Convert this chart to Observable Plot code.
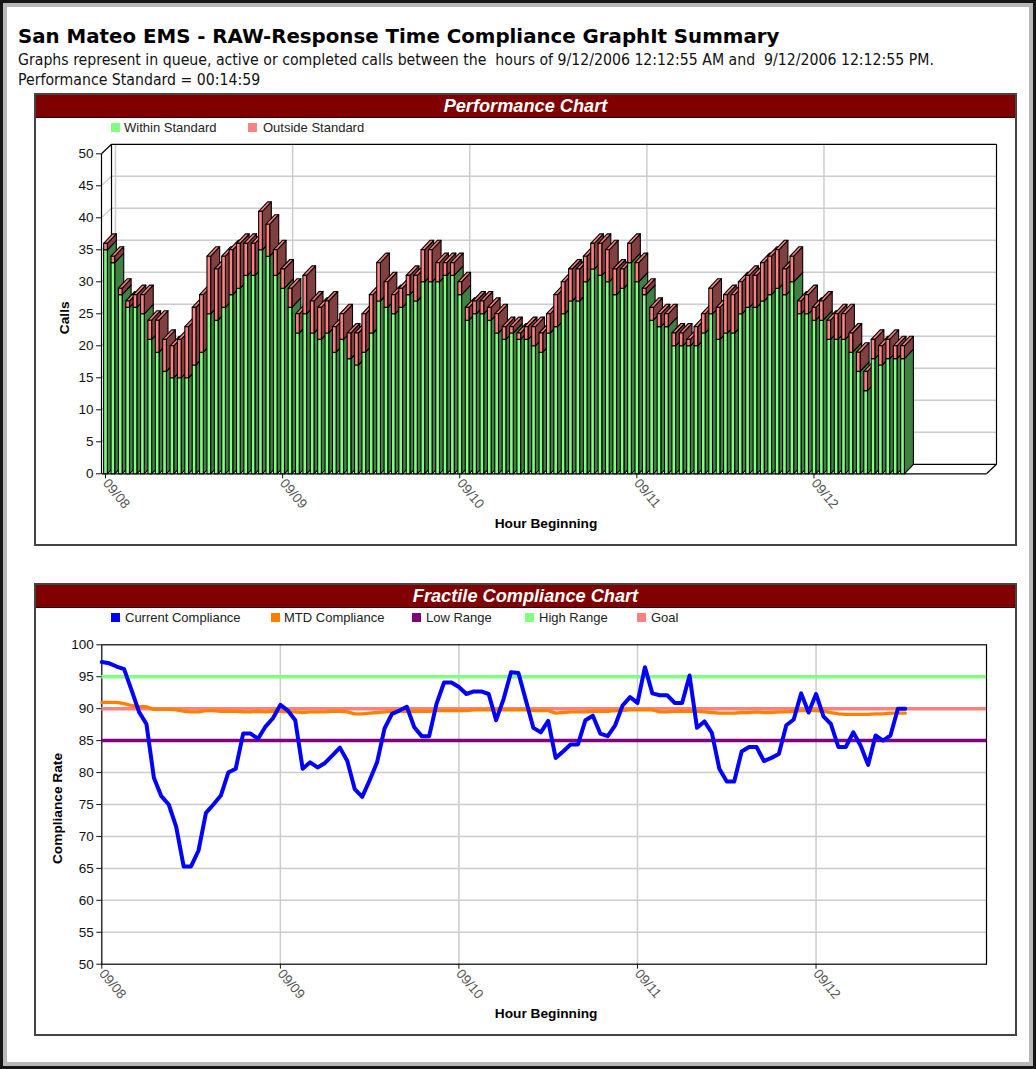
<!DOCTYPE html>
<html>
<head>
<meta charset="utf-8">
<script src="https://cdn.jsdelivr.net/npm/d3@7"></script>
<script src="https://cdn.jsdelivr.net/npm/@observablehq/plot@0.6"></script>
<style>
html,body{margin:0;padding:0;background:#fff;}
#page{position:relative;width:1036px;height:1069px;overflow:hidden;background:#fff;font-family:"Liberation Sans",Arial,sans-serif;}
.outer{position:absolute;left:0;top:0;width:1036px;height:1069px;box-sizing:border-box;border:3px solid #161616;}
.outer2{position:absolute;left:3px;top:3px;width:1030px;height:1063px;box-sizing:border-box;border:4px solid #b8b8b8;}
.t{position:absolute;white-space:pre;}
.panel{position:absolute;left:34px;width:983px;height:453px;box-sizing:border-box;border:2px solid #444;}
.bar{position:absolute;left:0;top:0;right:0;height:22px;background:#800000;border-bottom:1px solid #300;color:#fff;font:italic bold 18.2px "Liberation Sans",Arial,sans-serif;text-align:center;line-height:22px;}
.sw{position:absolute;width:9px;height:9px;}
.lg{position:absolute;font:13px "Liberation Sans",Arial,sans-serif;color:#222;white-space:pre;}
svg{position:absolute;left:0;}
</style>
</head>
<body>
<div id="page">
  <div class="outer"></div><div class="outer2"></div>
  <div class="t" style="left:18px;top:25px;font:bold 19.8px 'DejaVu Sans',Verdana,sans-serif;color:#000;">San Mateo EMS - RAW-Response Time Compliance GraphIt Summary</div>
  <div class="t" style="left:18px;top:50px;font:15.7px 'DejaVu Sans Condensed','DejaVu Sans',sans-serif;font-stretch:condensed;color:#111;">Graphs represent in queue, active or completed calls between the  hours of 9/12/2006 12:12:55 AM and  9/12/2006 12:12:55 PM.</div>
  <div class="t" style="left:18px;top:70px;font:15.7px 'DejaVu Sans Condensed','DejaVu Sans',sans-serif;font-stretch:condensed;color:#111;">Performance Standard = 00:14:59</div>
  <div class="panel" style="top:93px"><div class="bar">Performance Chart</div></div>
  <div class="panel" style="top:583px"><div class="bar">Fractile Compliance Chart</div></div>
  <div id="legends"></div>
  <div id="c1"></div>
  <div id="c2"></div>
</div>
<script>
const withinStandard = [35,33,28,26,26,25,21,19,16,15,15,15,17,19,25,24,26,28,29,31,31,35,34,31,29,26,22,25,22,21,22,19,21,18,17,19,22,27,26,25,26,28,27,30,30,30,31,31,28,24,25,25,24,22,21,22,21,21,20,19,22,23,25,27,27,30,32,31,30,28,29,33,30,28,24,23,23,20,20,20,20,22,25,21,22,22,25,26,26,27,28,29,28,30,25,25,24,24,21,21,21,19,16,13,18,17,18,18,18];
const totalCalls = [36,34,29,27,28,28,24,24,21,20,21,23,26,28,34,32,34,35,36,36,36,41,39,35,32,29,25,31,27,26,27,23,25,22,22,25,28,33,30,28,29,31,31,35,35,33,33,33,30,26,27,27,26,25,23,23,22,23,23,22,25,28,30,32,32,34,36,36,35,32,32,36,33,29,26,25,25,22,22,21,23,25,29,26,28,28,30,31,31,33,34,35,32,34,27,28,26,27,24,25,25,22,19,16,21,20,21,20,20];
const currentCompliance = [97.3,97.1,96.6,96.2,92.9,89.5,87.6,79.2,76.3,75,71.5,65.3,65.3,67.8,73.7,75,76.4,80,80.6,86.1,86.1,85.3,87.2,88.5,90.6,89.7,88.2,80.6,81.6,80.8,81.5,82.7,83.9,81.8,77.4,76.2,78.8,81.6,86.9,89.2,89.7,90.3,87.1,85.7,85.7,90.8,94.1,94.1,93.4,92.3,92.7,92.7,92.3,88.2,91.5,95.7,95.6,91.3,87,86.3,88.1,82.3,83.3,84.4,84.4,88.2,88.9,86.1,85.7,87.4,90.5,91.8,90.9,96.5,92.4,92.1,92.1,90.9,90.9,95.2,87,88,86.2,80.6,78.6,78.6,83.3,84,84,81.8,82.3,82.9,87.4,88.3,92.4,89.4,92.3,88.8,87.6,84,84,86.3,84.2,81.2,85.8,85,85.8,90,90];
const mtdCompliance = [91,91,91,90.8,90.5,90.3,90.3,89.9,89.9,89.9,89.8,89.6,89.5,89.5,89.7,89.7,89.6,89.6,89.6,89.5,89.5,89.6,89.5,89.6,89.6,89.5,89.5,89.4,89.5,89.5,89.5,89.6,89.6,89.5,89.2,89.2,89.3,89.4,89.5,89.6,89.6,89.6,89.6,89.6,89.6,89.7,89.7,89.7,89.7,89.7,89.8,89.8,89.8,89.8,89.8,89.8,89.8,89.8,89.7,89.7,89.7,89.3,89.4,89.5,89.5,89.5,89.6,89.6,89.6,89.7,89.7,89.8,89.8,89.8,89.8,89.5,89.5,89.6,89.6,89.6,89.6,89.5,89.4,89.3,89.3,89.3,89.4,89.4,89.5,89.4,89.4,89.5,89.5,89.6,89.7,89.7,89.7,89.6,89.4,89.2,89.1,89.1,89.1,89.1,89.2,89.2,89.3,89.3,89.3];
const lowRange = 85, highRange = 95, goal = 90;
const dayHours = [0,24,48,72,96];
const dayLabels = ["09/08","09/09","09/10","09/11","09/12"];
const callTicks = d3.range(0,51,5);
const rateTicks = d3.range(50,101,5);

const FONT = '"Liberation Sans",Arial,sans-serif';

/* legends */
const legendItems = [
 [111,124,128,"Within Standard","#80ff80"],[248,263,128,"Outside Standard","#ff8080"],
 [111,125,618,"Current Compliance","#0000ff"],[271,284,618,"MTD Compliance","#ff8000"],
 [412,426,618,"Low Range","#800080"],[525,539,618,"High Range","#80ff80"],[637,651,618,"Goal","#ff8080"]];
const L = document.getElementById("legends");
for (const [sx,tx,cy,txt,col] of legendItems){
  const s=document.createElement("div");s.className="sw";s.style.cssText=`left:${sx}px;top:${cy-5}px;background:${col}`;L.appendChild(s);
  const t=document.createElement("div");t.className="lg";t.textContent=txt;t.style.cssText=`left:${tx}px;top:${cy-8}px`;L.appendChild(t);
}

/* chart 1 */
const pxX = 7.38, pxY = 6.4;
const wallDX = 10/pxX, wallDY = 9.5/pxY;
const barDX = 9/pxX, barDY = 9.5/pxY, half = 1.85/pxX;
const x0 = -4/pxX, x1 = x0 + 885/pxX;
const faces = ["side-in","front-in","side-out","front-out","top-out","top-in"];
const faceColors = ["#408040","#80ff80","#804040","#ff8080","#ff8080","#80ff80"];
const verts = [];
function poly(id,face,pts){ for(const [x,y] of pts) verts.push({id,face,x,y}); }
withinStandard.forEach((w,i)=>{
  const t = totalCalls[i], a=i-half, b=i+half;
  poly(i+"a","side-in",[[b,0],[b+barDX,barDY],[b+barDX,w+barDY],[b,w]]);
  poly(i+"b","side-out",[[b,w],[b+barDX,w+barDY],[b+barDX,t+barDY],[b,t]]);
  poly(i+"c","top-out",[[a,t],[b,t],[b+barDX,t+barDY],[a+barDX,t+barDY]]);
  poly(i+"d","front-in",[[a,0],[b,0],[b,w],[a,w]]);
  poly(i+"e","front-out",[[a,w],[b,w],[b,t],[a,t]]);
});
const edges = [
 {x1:x0,y1:0,x2:x1,y2:0},{x1:x0,y1:0,x2:x0,y2:50},
 {x1:x0,y1:50,x2:x0+wallDX,y2:50+wallDY},{x1:x0+wallDX,y1:wallDY,x2:x0+wallDX,y2:50+wallDY},
 {x1:x0+wallDX,y1:50+wallDY,x2:x1+wallDX,y2:50+wallDY},{x1:x1+wallDX,y1:wallDY,x2:x1+wallDX,y2:50+wallDY},
 {x1:x0+wallDX,y1:wallDY,x2:x1+wallDX,y2:wallDY},{x1:x1,y1:0,x2:x1+wallDX,y2:wallDY}];

const chart1 = Plot.plot({
  width:1036,height:427,marginLeft:101,marginRight:50,marginTop:35.3,marginBottom:71.7,
  style:{background:"transparent",fontFamily:FONT,fontSize:"13.5px",color:"#111",overflow:"visible"},
  x:{domain:[x0,x1],axis:null},
  y:{domain:[0,50],axis:null},
  color:{domain:faces,range:faceColors},
  marks:[
    Plot.ruleX(dayHours,{x:d=>d+wallDX,y1:wallDY,y2:50+wallDY,stroke:"#ccc",strokeWidth:1.5}),
    Plot.ruleY(callTicks.slice(1,-1),{y:d=>d+wallDY,x1:x0+wallDX,x2:x1+wallDX,stroke:"#ccc",strokeWidth:1.5}),
    Plot.link(callTicks.slice(1,-1),{x1:x0,y1:d=>d,x2:x0+wallDX,y2:d=>d+wallDY,stroke:"#ccc",strokeWidth:1.2}),
    Plot.link(edges,{x1:"x1",y1:"y1",x2:"x2",y2:"y2",stroke:"#000",strokeWidth:1.2}),
    Plot.line(verts,{x:"x",y:"y",z:"id",fill:"face",stroke:"#000",strokeWidth:1.1,curve:"linear-closed"}),
    Plot.axisY({ticks:callTicks,tickSize:5,tickPadding:3,label:null,anchor:"left",x:x0,fontSize:13.5}),
    Plot.axisX({ticks:dayHours,tickFormat:d=>dayLabels[dayHours.indexOf(d)],tickSize:5,tickPadding:2,tickRotate:50,label:null,anchor:"bottom",fill:"#555",fontSize:13.5}),
    Plot.text(["Calls"],{frameAnchor:"left",textAnchor:"middle",rotate:-90,dx:-37,dy:4,fontWeight:"bold",fontSize:13.7,fill:"#000"}),
    Plot.text(["Hour Beginning"],{frameAnchor:"bottom",dy:54,dx:2,fontWeight:"bold",fontSize:13.7,fill:"#000"})
  ]
});
chart1.style.top="118px";
document.getElementById("c1").appendChild(chart1);

/* chart 2 */
const hours = currentCompliance.map((_,i)=>i);
const x2max = (986-101.3)/7.44;
const chart2 = Plot.plot({
  width:1036,height:427,marginLeft:101.3,marginRight:50,marginTop:36.3,marginBottom:71.3,
  style:{background:"transparent",fontFamily:FONT,fontSize:"13.5px",color:"#111",overflow:"visible"},
  x:{domain:[0,x2max],axis:null},
  y:{domain:[50,100],axis:null},
  marks:[
    Plot.ruleX(dayHours.slice(1),{stroke:"#ccc",strokeWidth:1.5}),
    Plot.ruleY(rateTicks.slice(1,-1),{stroke:"#ccc",strokeWidth:1.5}),
    Plot.frame({stroke:"#000",strokeWidth:1.2}),
    Plot.ruleY([goal],{stroke:"#ff8080",strokeWidth:3.5}),
    Plot.ruleY([highRange],{stroke:"#80ff80",strokeWidth:3.5}),
    Plot.ruleY([lowRange],{stroke:"#800080",strokeWidth:3.5}),
    Plot.line(mtdCompliance,{x:(d,i)=>hours[i],y:d=>d,stroke:"#ff8000",strokeWidth:3.3,strokeLinejoin:"round"}),
    Plot.line(currentCompliance,{x:(d,i)=>hours[i],y:d=>d,stroke:"#0000ff",strokeWidth:4,strokeLinejoin:"round"}),
    Plot.axisY({ticks:rateTicks,tickSize:5,tickPadding:3,label:null,anchor:"left",fontSize:13.5}),
    Plot.axisX({ticks:dayHours,tickFormat:d=>dayLabels[dayHours.indexOf(d)],tickSize:5,tickPadding:2,tickRotate:50,label:null,anchor:"bottom",fill:"#555",fontSize:13.5}),
    Plot.text(["Compliance Rate"],{frameAnchor:"left",textAnchor:"middle",rotate:-90,dx:-44.5,dy:4,fontWeight:"bold",fontSize:13.7,fill:"#000"}),
    Plot.text(["Hour Beginning"],{frameAnchor:"bottom",dy:54,dx:2,fontWeight:"bold",fontSize:13.7,fill:"#000"})
  ]
});
chart2.style.top="608px";
document.getElementById("c2").appendChild(chart2);
</script>
</body>
</html>
